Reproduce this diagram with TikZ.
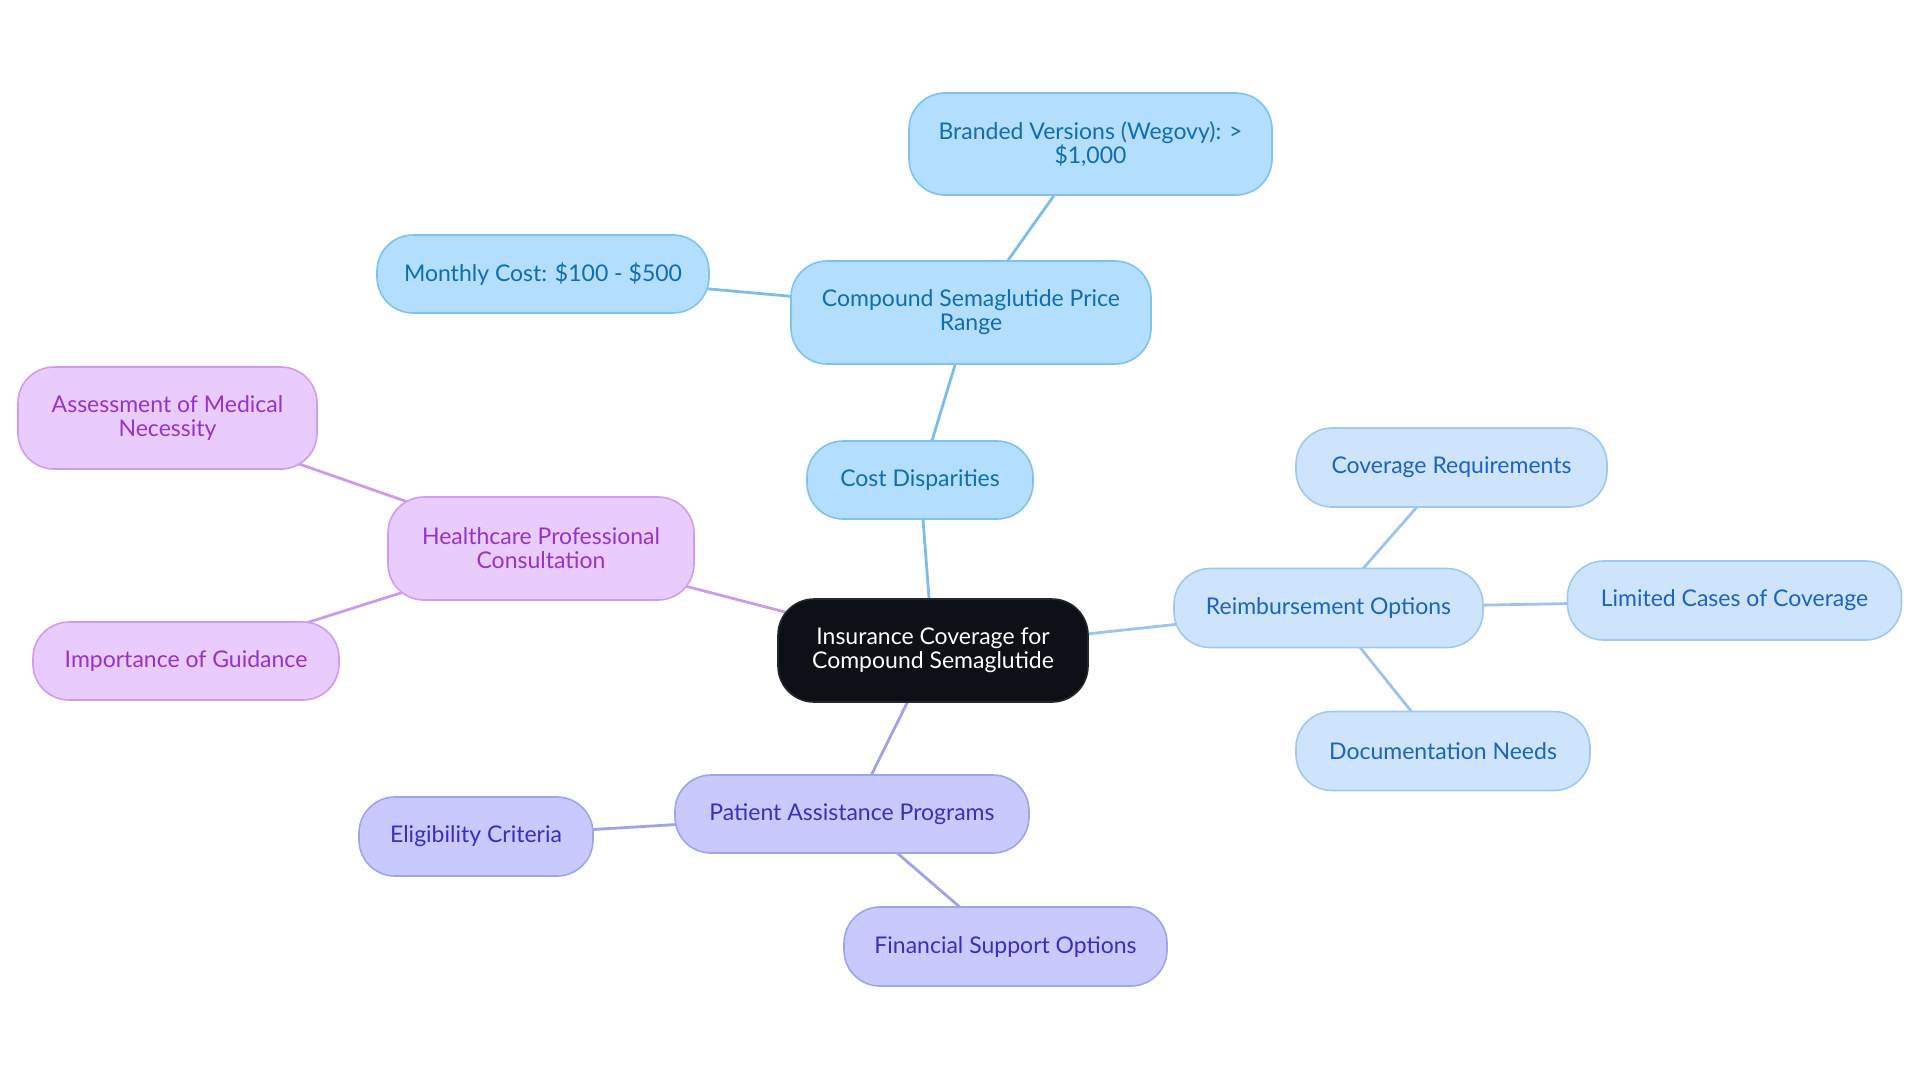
\documentclass[tikz,border=0pt]{standalone}
\usepackage{fontspec}
\setmainfont{Lato}
\usetikzlibrary{backgrounds}
\pgfdeclarelayer{canvas}
\pgfsetlayers{canvas,background,main}
\definecolor{skyfill}{HTML}{B3DEFD}
\definecolor{skydraw}{HTML}{7FC2F2}
\definecolor{skytext}{HTML}{116DB3}
\definecolor{skyedge}{HTML}{7DBDEA}
\definecolor{palefill}{HTML}{CDE4FC}
\definecolor{paledraw}{HTML}{A2C8F0}
\definecolor{paletext}{HTML}{1C63C2}
\definecolor{paleedge}{HTML}{9EC4EE}
\definecolor{purpfill}{HTML}{EACBFD}
\definecolor{purpdraw}{HTML}{CF9DEF}
\definecolor{purptext}{HTML}{9533CC}
\definecolor{purpedge}{HTML}{C99DEB}
\definecolor{lavfill}{HTML}{C8CAFD}
\definecolor{lavdraw}{HTML}{A0A3EF}
\definecolor{lavtext}{HTML}{3A2EBF}
\definecolor{lavedge}{HTML}{A2A1EC}
\definecolor{rootfill}{HTML}{0D1117}
\tikzset{
  box/.style={rounded corners=18pt, draw, line width=0.8pt, align=center,
    inner sep=0pt, font=\fontsize{11.5pt}{12pt}\selectfont},
  skybox/.style={box, fill=skyfill, draw=skydraw, text=skytext},
  palebox/.style={box, fill=palefill, draw=paledraw, text=paletext},
  purpbox/.style={box, fill=purpfill, draw=purpdraw, text=purptext},
  lavbox/.style={box, fill=lavfill, draw=lavdraw, text=lavtext},
  rootbox/.style={box, fill=rootfill, draw=rootfill!80!gray, text=white},
  edge/.style={line width=1.4pt},
}
\begin{document}
\begin{tikzpicture}[x=0.5pt,y=-0.5pt]
\begin{pgfonlayer}{canvas}
\fill[white] (0,0) rectangle (1920,1083);
\end{pgfonlayer}
\useasboundingbox (0,0) rectangle (1920,1083);
\node[rootbox, minimum width=155pt, minimum height=51.5pt] (root) at (933,650.5) {Insurance Coverage for\\Compound Semaglutide};
\node[skybox, minimum width=113pt, minimum height=39pt] (cost) at (920,480) {Cost Disparities};
\node[skybox, minimum width=180pt, minimum height=51.5pt] (price) at (971,312.5) {Compound Semaglutide Price\\Range};
\node[skybox, minimum width=181.5pt, minimum height=51pt] (brand) at (1090.5,144) {Branded Versions (Wegovy): >\\\$1,000};
\node[skybox, minimum width=166pt, minimum height=39pt] (month) at (543,274) {Monthly Cost: \$100 - \$500};
\node[purpbox, minimum width=153pt, minimum height=51.5pt] (hpc) at (541,548.5) {Healthcare Professional\\Consultation};
\node[purpbox, minimum width=149.5pt, minimum height=51pt] (assess) at (167.5,418) {Assessment of Medical\\Necessity};
\node[purpbox, minimum width=153pt, minimum height=39pt] (guide) at (186,661) {Importance of Guidance};
\node[palebox, minimum width=154.5pt, minimum height=39.5pt] (reimb) at (1328.5,608) {Reimbursement Options};
\node[palebox, minimum width=155.5pt, minimum height=39.5pt] (cover) at (1451.5,467.5) {Coverage Requirements};
\node[palebox, minimum width=167pt, minimum height=39.5pt] (limit) at (1734.5,600.5) {Limited Cases of Coverage};
\node[palebox, minimum width=147pt, minimum height=39.5pt] (docu) at (1443,751) {Documentation Needs};
\node[lavbox, minimum width=177pt, minimum height=39pt] (pap) at (852,814) {Patient Assistance Programs};
\node[lavbox, minimum width=117pt, minimum height=39.5pt] (elig) at (476,836.5) {Eligibility Criteria};
\node[lavbox, minimum width=161.5pt, minimum height=39.5pt] (fin) at (1005.5,946.5) {Financial Support Options};
\begin{scope}[on background layer]
\draw[edge, skyedge] (root.center) -- (cost.center);
\draw[edge, skyedge] (cost.center) -- (price.center);
\draw[edge, skyedge] (price.center) -- (brand.center);
\draw[edge, skyedge] (price.center) -- (month.center);
\draw[edge, purpedge] (root.center) -- (hpc.center);
\draw[edge, purpedge] (hpc.center) -- (assess.center);
\draw[edge, purpedge] (hpc.center) -- (guide.center);
\draw[edge, paleedge] (root.center) -- (reimb.center);
\draw[edge, paleedge] (reimb.center) -- (cover.center);
\draw[edge, paleedge] (reimb.center) -- (limit.center);
\draw[edge, paleedge] (reimb.center) -- (docu.center);
\draw[edge, lavedge] (root.center) -- (pap.center);
\draw[edge, lavedge] (pap.center) -- (elig.center);
\draw[edge, lavedge] (pap.center) -- (fin.center);
\end{scope}
\end{tikzpicture}
\end{document}
